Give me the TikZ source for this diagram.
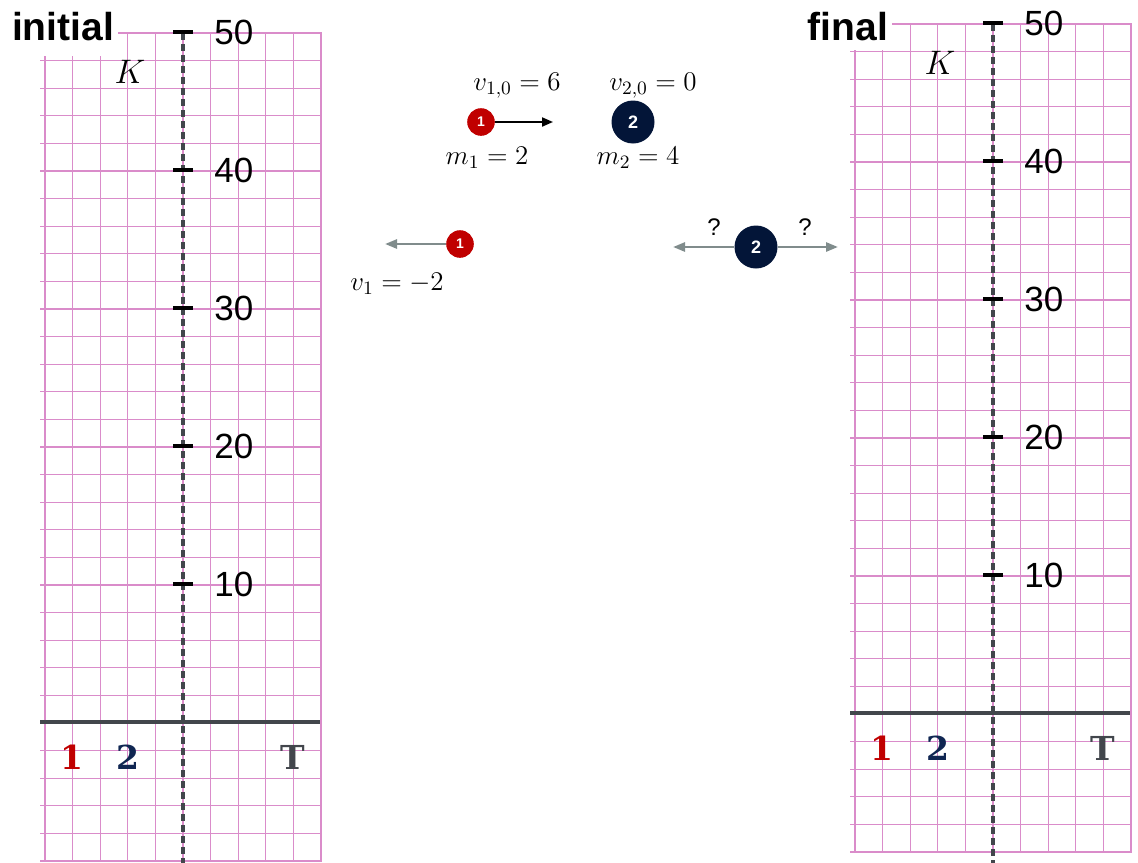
\documentclass[tikz,border=0pt]{standalone}
\usepackage{fix-cm}
\usepackage{fontspec}
\usetikzlibrary{arrows.meta}
\newfontfamily\headfont{Liberation Sans}
\newfontfamily\slabfont{DejaVu Serif}
\definecolor{gridpink}{RGB}{218,140,202}
\definecolor{axisgray}{RGB}{66,70,76}
\definecolor{ballred}{RGB}{192,0,0}
\definecolor{ballnavy}{RGB}{3,21,56}
\definecolor{labelnavy}{RGB}{16,38,82}
\definecolor{arrowgray}{RGB}{128,140,140}
\tikzset{
  gridline/.style={gridpink,line width=.65pt},
  kaxis/.style={axisgray,line width=1.7pt,dash pattern=on 3.5pt off 2pt},
  taxis/.style={axisgray,line width=1.7pt},
  tickmark/.style={black,line width=1.7pt},
  ticklabel/.style={anchor=west,inner sep=0,font=\headfont\fontsize{17.5}{18}\selectfont},
  paneltitle/.style={inner sep=0,font=\headfont\bfseries\fontsize{19.5}{21}\selectfont},
  barlabel/.style={inner sep=0,font=\slabfont\bfseries\fontsize{16.5}{18}\selectfont},
  ball1/.style={circle,fill=ballred,text=white,inner sep=0,minimum size=13.8pt,font=\headfont\bfseries\fontsize{7}{7}\selectfont},
  ball2/.style={circle,fill=ballnavy,text=white,inner sep=0,minimum size=21.5pt,font=\headfont\bfseries\fontsize{9}{9}\selectfont},
  mathlabel/.style={inner sep=0,font=\fontsize{13.5}{15}\selectfont},
  qlabel/.style={inner sep=0,font=\headfont\fontsize{12}{12}\selectfont},
  velarrow/.style={-{Triangle[length=5.5pt,width=4.5pt]},line width=1pt},
  grayarrow/.style={arrowgray,-{Triangle[length=6pt,width=4.5pt]},line width=1.3pt},
}
\begin{document}
\begin{tikzpicture}[x=.5pt,y=-.5pt]
\useasboundingbox (0,0) rectangle (1138,862);

% grid paper of both panels
\foreach \sx/\sy in {0/0,810/-9}{
  \begin{scope}[shift={(\sx,\sy)}]
    \foreach \i in {0,...,10}
      \draw[gridline] ({45+27.6*\i},33) -- ({45+27.6*\i},862);
    \foreach \j in {0,...,30}
      \draw[gridline] (40,{33+27.6*\j}) -- (322,{33+27.6*\j});
  \end{scope}
}
\fill[white] (0,0) rectangle (118,56);
\fill[white] (800,0) rectangle (892,50);
\node[paneltitle] (initial) at (63,27) {initial};
\node[paneltitle] (final) at (848,27) {final};

% axes, ticks and bar labels
\foreach \sx/\sy/\p in {0/0/i,810/-9/f}{
  \begin{scope}[shift={(\sx,\sy)}]
    \draw[kaxis] (183,33) -- (183,880);
    \draw[taxis] (40,722) -- (320,722);
    \foreach \k in {1,...,5}{
      \draw[tickmark] (173,{722-138*\k}) -- (193,{722-138*\k});
      \node[ticklabel] (tick\p\k) at (214,{722-138*\k}) {\k0};
    }
    \node[mathlabel,font=\fontsize{17}{19}\selectfont] (K\p) at (130,72) {$K$};
    \node[barlabel,text=ballred] (bar1\p) at (72,757) {1};
    \node[barlabel,text=labelnavy] (bar2\p) at (128,757) {2};
    \node[barlabel,text=axisgray] (barT\p) at (293,757) {T};
  \end{scope}
}

% before the collision
\node[ball1] (b1i) at (481,122) {1};
\node[ball2] (b2i) at (633,122) {2};
\coordinate (v1i) at (553,122);
\draw[velarrow] (b1i) -- (v1i);
\node[mathlabel] (v10) at (517,86) {$v_{1,0}=6$};
\node[mathlabel] (v20) at (653,86) {$v_{2,0}=0$};
\node[mathlabel] (m1) at (487,158) {$m_1=2$};
\node[mathlabel] (m2) at (638,158) {$m_2=4$};

% after the collision
\node[ball1] (b1f) at (460,244) {1};
\coordinate (v1f) at (385,244);
\draw[grayarrow] (b1f) -- (v1f);
\node[mathlabel] (v1) at (397,284) {$v_1=-2$};
\node[ball2] (b2f) at (756,247) {2};
\coordinate (v2l) at (673,247);
\coordinate (v2r) at (838,247);
\draw[grayarrow] (b2f) -- (v2l);
\draw[grayarrow] (b2f) -- (v2r);
\node[qlabel] (q1) at (714,227) {?};
\node[qlabel] (q2) at (805,227) {?};
\end{tikzpicture}
\end{document}
